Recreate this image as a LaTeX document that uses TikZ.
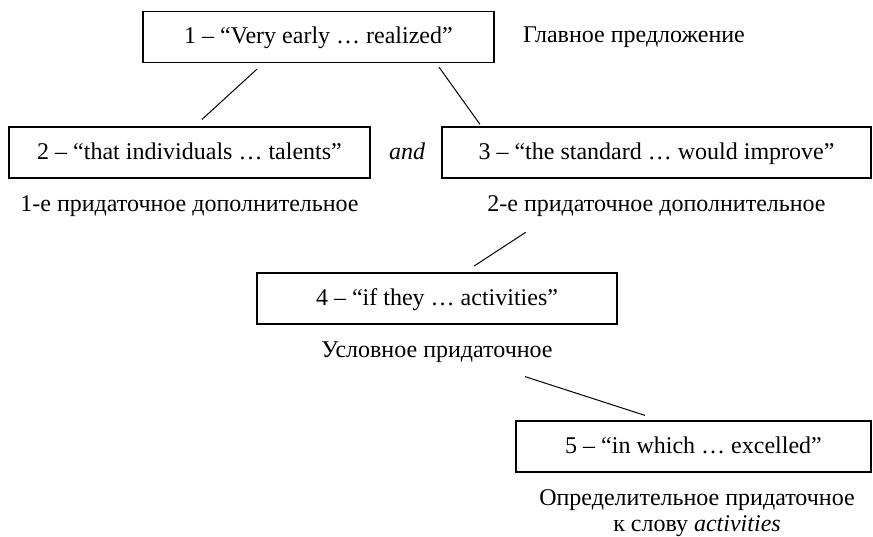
\documentclass[tikz,border=0pt]{standalone}
\usepackage{fontspec}
\setmainfont{Liberation Serif}
\usetikzlibrary{positioning}

\tikzset{
	clause/.style = {draw, line width=0.6pt, minimum height=25.5pt, inner sep=2pt,
		text height=8.5pt, text depth=2pt, font=\fontsize{12pt}{13pt}\selectfont},
	note/.style = {inner sep=1pt, align=center, font=\fontsize{12pt}{13pt}\selectfont},
	caption/.style = {note, text height=8pt, text depth=2.5pt},
	link/.style = {line width=0.5pt}
}

\begin{document}
\begin{tikzpicture}[x=0.5pt, y=-0.5pt, node distance = 7pt]
			\useasboundingbox (0,0) rectangle (873,536);
			
			\node[clause, minimum width=175.5pt] (main) at (318.5,37) {1 – “Very early … realized”};
			\node[caption, right=13pt of main] (mainlbl) {Главное предложение};
			
			\node[clause, minimum width=180.5pt] (obj1) at (189.5,152.5) {2 – “that individuals … talents”};
			\node[clause, minimum width=214.5pt] (obj2) at (656.5,152.5) {3 – “the standard … would improve”};
			\node[note, text height=8.5pt, text depth=1.5pt, font=\fontsize{12pt}{13pt}\selectfont\itshape, right=8pt of obj1] (conj) {and};
			\node[caption, below=of obj1] (obj1lbl) {1-е придаточное дополнительное};
			\node[caption, below=of obj2] (obj2lbl) {2-е придаточное дополнительное};
			
			\node[clause, minimum width=180pt] (cond) at (437,298.5) {4 – “if they … activities”};
			\node[caption, below=of cond] (condlbl) {Условное придаточное};
			
			\node[clause, minimum width=177.5pt] (attr) at (693.5,446.5) {5 – “in which … excelled”};
			\node[note, below=7.5pt of attr, xshift=1.75pt] (attrlbl) {Определительное придаточное\\к слову \textit{activities}};
			
			
			\draw[link] ([xshift=-30.75pt,yshift=-3pt]main.south) -- ([xshift=6.25pt,yshift=3.5pt]obj1.north);
			\draw[link] ([xshift=60.25pt,yshift=-2pt]main.south) -- ([xshift=-88.25pt,yshift=1pt]obj2.north);
			\draw[link] ([xshift=-65.4pt,yshift=-26.85pt]obj2.south) -- ([xshift=18.5pt,yshift=3.15pt]cond.north);
			\draw[link] ([xshift=44pt,yshift=-26pt]cond.south) -- ([xshift=-24.25pt,yshift=2.5pt]attr.north);
			
\end{tikzpicture}
\end{document}
